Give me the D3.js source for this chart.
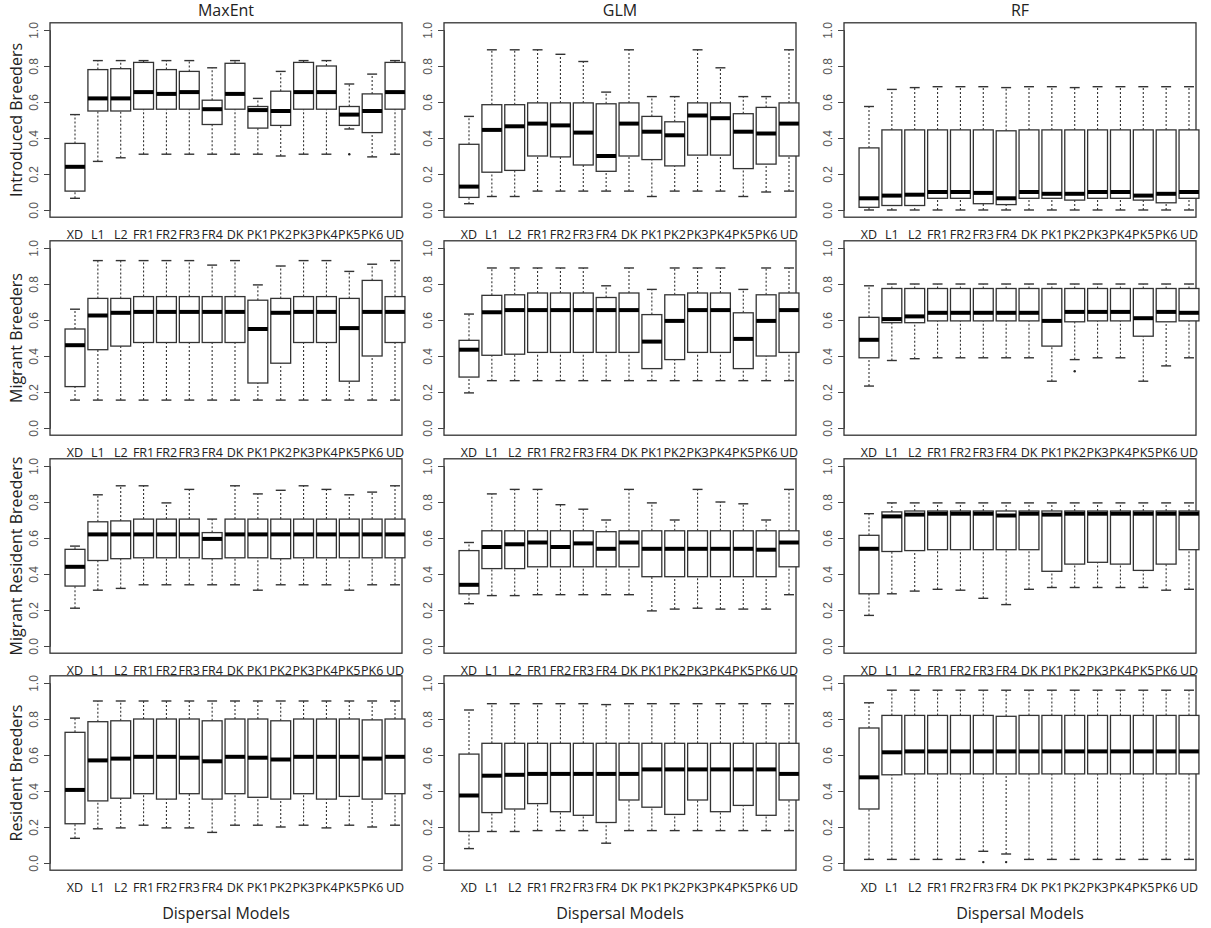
<!DOCTYPE html>
<html>
<head>
<meta charset="utf-8">
<script src="https://cdn.jsdelivr.net/npm/d3@7"></script>
<style>
  body { margin: 0; background: #fff; }
  text { font-family: "Open Sans", "Liberation Sans", sans-serif; fill: #222; }
</style>
</head>
<body>
<div id="chart"></div>
<script>
// categories and labels
var models = ["XD","L1","L2","FR1","FR2","FR3","FR4","DK","PK1","PK2","PK3","PK4","PK5","PK6","UD"];
var methods = ["MaxEnt","GLM","RF"];
var groups = ["Introduced Breeders","Migrant Breeders","Migrant Resident Breeders","Resident Breeders"];
var yTicks = [0, 0.2, 0.4, 0.6, 0.8, 1.0];

// box stats per model: [lower whisker, q1, median, q3, upper whisker]
var maxentIntroduced = [[0.065,0.105,0.24,0.37,0.53],[0.27,0.55,0.62,0.78,0.83],[0.29,0.55,0.62,0.785,0.83],[0.31,0.56,0.655,0.82,0.83],[0.31,0.56,0.645,0.78,0.83],[0.31,0.56,0.655,0.77,0.83],[0.31,0.475,0.56,0.61,0.79],[0.31,0.56,0.645,0.815,0.83],[0.31,0.455,0.555,0.575,0.62],[0.30,0.47,0.55,0.66,0.77],[0.31,0.56,0.655,0.82,0.83],[0.31,0.56,0.655,0.80,0.83],[0.45,0.47,0.53,0.575,0.70],[0.295,0.43,0.55,0.645,0.755],[0.31,0.56,0.655,0.82,0.83]];
var glmIntroduced = [[0.035,0.07,0.13,0.365,0.52],[0.075,0.21,0.445,0.585,0.89],[0.075,0.22,0.465,0.585,0.89],[0.105,0.30,0.48,0.595,0.89],[0.105,0.295,0.47,0.595,0.865],[0.105,0.25,0.43,0.595,0.825],[0.105,0.215,0.30,0.59,0.655],[0.105,0.30,0.48,0.595,0.89],[0.075,0.28,0.435,0.52,0.63],[0.105,0.245,0.415,0.49,0.63],[0.105,0.305,0.525,0.595,0.89],[0.105,0.305,0.51,0.595,0.79],[0.075,0.23,0.435,0.535,0.63],[0.10,0.255,0.425,0.57,0.63],[0.105,0.30,0.48,0.595,0.89]];
var rfIntroduced = [[0,0.015,0.065,0.345,0.575],[0,0.025,0.08,0.445,0.67],[0,0.025,0.085,0.445,0.68],[0,0.065,0.10,0.445,0.685],[0,0.065,0.10,0.445,0.685],[0,0.035,0.095,0.445,0.685],[0,0.03,0.065,0.44,0.68],[0,0.065,0.10,0.445,0.685],[0,0.065,0.09,0.445,0.685],[0,0.055,0.09,0.445,0.68],[0,0.065,0.10,0.445,0.685],[0,0.065,0.10,0.445,0.685],[0,0.055,0.08,0.445,0.685],[0,0.04,0.09,0.445,0.685],[0,0.065,0.10,0.445,0.685]];
var maxentMigrant = [[0.155,0.23,0.46,0.55,0.66],[0.155,0.435,0.625,0.72,0.93],[0.155,0.455,0.64,0.72,0.93],[0.155,0.475,0.645,0.73,0.93],[0.155,0.475,0.645,0.73,0.93],[0.155,0.475,0.645,0.73,0.93],[0.155,0.475,0.645,0.73,0.905],[0.155,0.475,0.645,0.73,0.93],[0.155,0.25,0.55,0.71,0.795],[0.155,0.36,0.64,0.72,0.90],[0.155,0.475,0.645,0.73,0.93],[0.155,0.475,0.645,0.73,0.93],[0.155,0.26,0.555,0.72,0.87],[0.155,0.40,0.645,0.82,0.91],[0.155,0.475,0.645,0.73,0.93]];
var glmMigrant = [[0.195,0.283,0.435,0.487,0.633],[0.263,0.404,0.643,0.737,0.889],[0.263,0.41,0.655,0.74,0.889],[0.263,0.42,0.655,0.75,0.889],[0.263,0.42,0.655,0.75,0.889],[0.263,0.42,0.655,0.75,0.889],[0.263,0.42,0.655,0.725,0.79],[0.263,0.42,0.655,0.75,0.889],[0.263,0.33,0.48,0.63,0.77],[0.263,0.38,0.595,0.74,0.889],[0.263,0.42,0.655,0.75,0.889],[0.263,0.42,0.655,0.75,0.889],[0.263,0.33,0.495,0.64,0.77],[0.263,0.40,0.595,0.74,0.889],[0.263,0.42,0.655,0.75,0.889]];
var rfMigrant = [[0.233,0.39,0.49,0.615,0.79],[0.375,0.585,0.605,0.775,0.80],[0.385,0.585,0.62,0.775,0.80],[0.39,0.595,0.64,0.775,0.80],[0.39,0.595,0.64,0.775,0.80],[0.39,0.595,0.64,0.775,0.80],[0.39,0.595,0.64,0.775,0.80],[0.39,0.595,0.64,0.775,0.80],[0.26,0.455,0.595,0.775,0.80],[0.38,0.59,0.645,0.775,0.80],[0.39,0.595,0.645,0.775,0.80],[0.39,0.595,0.645,0.775,0.80],[0.26,0.51,0.61,0.775,0.80],[0.345,0.59,0.645,0.775,0.80],[0.39,0.595,0.64,0.775,0.80]];
var maxentMigRes = [[0.21,0.333,0.44,0.537,0.555],[0.31,0.475,0.62,0.69,0.84],[0.32,0.485,0.62,0.695,0.89],[0.34,0.49,0.62,0.705,0.89],[0.34,0.49,0.62,0.705,0.795],[0.34,0.49,0.62,0.705,0.87],[0.34,0.485,0.595,0.63,0.705],[0.34,0.49,0.62,0.705,0.89],[0.31,0.49,0.62,0.705,0.845],[0.34,0.485,0.62,0.705,0.865],[0.34,0.49,0.62,0.705,0.89],[0.34,0.49,0.62,0.705,0.87],[0.31,0.49,0.62,0.705,0.84],[0.34,0.49,0.62,0.705,0.855],[0.34,0.49,0.62,0.705,0.89]];
var glmMigRes = [[0.235,0.29,0.34,0.53,0.575],[0.28,0.43,0.55,0.64,0.845],[0.28,0.43,0.565,0.64,0.87],[0.285,0.44,0.575,0.64,0.87],[0.285,0.44,0.55,0.64,0.785],[0.285,0.44,0.57,0.64,0.76],[0.285,0.44,0.54,0.635,0.70],[0.285,0.44,0.575,0.64,0.87],[0.195,0.385,0.54,0.64,0.795],[0.205,0.385,0.54,0.64,0.70],[0.21,0.385,0.54,0.64,0.87],[0.205,0.385,0.54,0.64,0.80],[0.205,0.385,0.54,0.64,0.79],[0.205,0.385,0.535,0.64,0.70],[0.285,0.44,0.575,0.64,0.87]];
var rfMigRes = [[0.17,0.29,0.54,0.615,0.735],[0.29,0.525,0.72,0.745,0.795],[0.305,0.53,0.73,0.75,0.795],[0.315,0.535,0.735,0.75,0.795],[0.31,0.535,0.735,0.75,0.795],[0.265,0.535,0.735,0.75,0.795],[0.23,0.535,0.725,0.75,0.795],[0.315,0.535,0.735,0.75,0.795],[0.325,0.415,0.73,0.75,0.795],[0.325,0.455,0.735,0.75,0.795],[0.325,0.465,0.735,0.75,0.795],[0.325,0.455,0.735,0.75,0.795],[0.325,0.42,0.735,0.75,0.795],[0.31,0.455,0.735,0.75,0.795],[0.315,0.535,0.735,0.75,0.795]];
var maxentResident = [[0.137,0.218,0.406,0.726,0.805],[0.19,0.345,0.57,0.785,0.90],[0.195,0.36,0.58,0.79,0.90],[0.21,0.385,0.59,0.80,0.90],[0.195,0.355,0.59,0.80,0.90],[0.195,0.385,0.585,0.80,0.90],[0.17,0.355,0.565,0.79,0.90],[0.21,0.385,0.59,0.80,0.90],[0.21,0.365,0.585,0.80,0.90],[0.20,0.355,0.575,0.79,0.90],[0.21,0.385,0.59,0.80,0.90],[0.195,0.355,0.59,0.80,0.90],[0.21,0.37,0.59,0.80,0.90],[0.20,0.355,0.58,0.795,0.90],[0.21,0.385,0.59,0.80,0.90]];
var glmResident = [[0.08,0.175,0.375,0.605,0.85],[0.175,0.28,0.485,0.665,0.885],[0.175,0.30,0.49,0.665,0.885],[0.18,0.33,0.495,0.665,0.885],[0.18,0.285,0.495,0.665,0.885],[0.18,0.265,0.495,0.665,0.885],[0.11,0.225,0.495,0.665,0.88],[0.18,0.35,0.495,0.665,0.885],[0.18,0.31,0.52,0.665,0.885],[0.18,0.27,0.52,0.665,0.885],[0.18,0.35,0.52,0.665,0.885],[0.18,0.285,0.52,0.665,0.885],[0.18,0.32,0.52,0.665,0.885],[0.18,0.265,0.52,0.665,0.885],[0.18,0.35,0.495,0.665,0.885]];
var rfResident = [[0.02,0.30,0.476,0.75,0.89],[0.02,0.49,0.615,0.82,0.96],[0.02,0.495,0.62,0.82,0.96],[0.02,0.495,0.62,0.82,0.96],[0.02,0.495,0.62,0.82,0.96],[0.065,0.495,0.62,0.82,0.96],[0.05,0.495,0.62,0.815,0.96],[0.02,0.495,0.62,0.82,0.96],[0.02,0.495,0.62,0.82,0.96],[0.02,0.495,0.62,0.82,0.96],[0.02,0.495,0.62,0.82,0.96],[0.02,0.495,0.62,0.82,0.96],[0.02,0.495,0.62,0.82,0.96],[0.02,0.495,0.62,0.82,0.96],[0.02,0.495,0.62,0.82,0.96]];

// outliers: [row, col, model, value]
var outliers = [[0,0,"PK5",0.31],[1,2,"PK2",0.315],[3,2,"FR3",0.005],[3,2,"FR4",0.005]];

var panels = [
  [maxentIntroduced, glmIntroduced, rfIntroduced],
  [maxentMigrant, glmMigrant, rfMigrant],
  [maxentMigRes, glmMigRes, rfMigRes],
  [maxentResident, glmResident, rfResident]
];

var W = 1211, H = 928;
var colLeft = [50, 444, 844], panelW = 352;
var rowTop = [30, 248, 466, 683], span = 180;
var n = models.length;

var svg = d3.select("#chart").append("svg").attr("width", W).attr("height", H);

methods.forEach(function(m, c) {
  svg.append("text").attr("x", colLeft[c] + panelW / 2).attr("y", 16)
    .attr("text-anchor", "middle").style("font-size", "16px").text(m);
  svg.append("text").attr("x", colLeft[c] + panelW / 2).attr("y", 919)
    .attr("text-anchor", "middle").style("font-size", "16px").text("Dispersal Models");
});

panels.forEach(function(row, r) {
  var y = d3.scaleLinear().domain([0, 1]).range([rowTop[r] + span, rowTop[r]]);
  var frameTop = y(1.04), frameBot = y(-0.04);

  svg.append("text")
    .attr("transform", "translate(22," + ((frameTop + frameBot) / 2) + ") rotate(-90)")
    .attr("text-anchor", "middle").style("font-size", "16px").text(groups[r]);

  row.forEach(function(stats, c) {
    var x = d3.scaleLinear().domain([1, n]).range([colLeft[c] + 25, colLeft[c] + 345]);
    var g = svg.append("g");
    var bw = x(1.87) - x(1);

    g.append("rect").attr("x", colLeft[c]).attr("y", frameTop)
      .attr("width", panelW).attr("height", frameBot - frameTop)
      .attr("fill", "none").attr("stroke", "#333").attr("stroke-width", 1.3);

    // y axis
    var yAxis = d3.axisLeft(y).tickValues(yTicks).tickSize(6).tickFormat(d3.format(".1f"));
    var ax = g.append("g").attr("transform", "translate(" + colLeft[c] + ",0)").call(yAxis);
    ax.select(".domain").attr("stroke", "#444");
    ax.selectAll(".tick line").attr("stroke", "#444");
    ax.selectAll(".tick text")
      .attr("transform", "rotate(-90,-16,0)").attr("x", -16).attr("y", 0)
      .attr("dy", "0.35em").attr("text-anchor", "middle")
      .style("font-family", "'Liberation Sans', Arial, sans-serif")
      .style("font-size", "12px").style("fill", "#555");

    // x labels
    models.forEach(function(name, i) {
      g.append("text").attr("x", x(i + 1)).attr("y", frameBot + 22)
        .attr("text-anchor", "middle").style("font-size", "12.5px").text(name);
    });

    stats.forEach(function(s, i) {
      var cx = x(i + 1);
      [[s[0], s[1]], [s[3], s[4]]].forEach(function(w) {
        g.append("line").attr("x1", cx).attr("x2", cx).attr("y1", y(w[0])).attr("y2", y(w[1]))
          .attr("stroke", "#333").attr("stroke-width", 1.1).attr("stroke-dasharray", "2,2");
      });
      [s[0], s[4]].forEach(function(v) {
        g.append("line").attr("x1", cx - bw / 4).attr("x2", cx + bw / 4).attr("y1", y(v)).attr("y2", y(v))
          .attr("stroke", "#333").attr("stroke-width", 1.4);
      });
      g.append("rect").attr("x", cx - bw / 2).attr("y", y(s[3]))
        .attr("width", bw).attr("height", y(s[1]) - y(s[3]))
        .attr("fill", "#fff").attr("stroke", "#333").attr("stroke-width", 1.3);
      g.append("line").attr("x1", cx - bw / 2).attr("x2", cx + bw / 2).attr("y1", y(s[2])).attr("y2", y(s[2]))
        .attr("stroke", "#000").attr("stroke-width", 4);
    });

    outliers.filter(function(o) { return o[0] === r && o[1] === c; }).forEach(function(o) {
      g.append("circle").attr("cx", x(models.indexOf(o[2]) + 1)).attr("cy", y(o[3]))
        .attr("r", 1.2).attr("fill", "#222");
    });
  });
});
</script>
</body>
</html>
